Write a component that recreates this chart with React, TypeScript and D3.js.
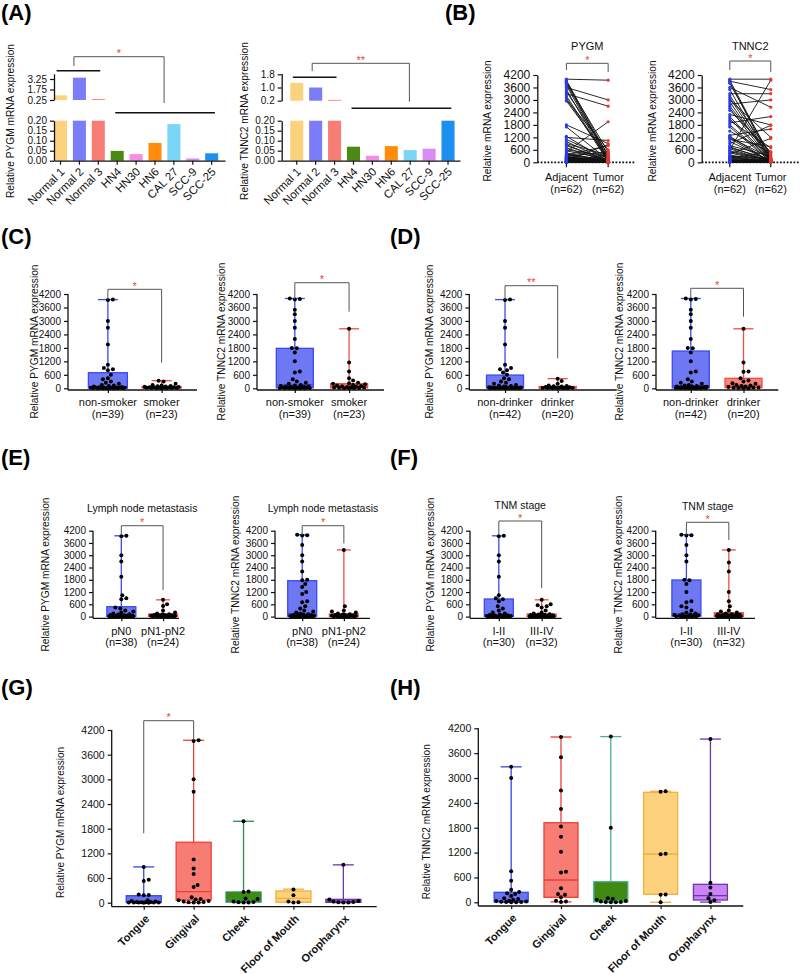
import { useEffect, useRef } from 'react';
import * as d3 from 'd3';

const FONT = '"Liberation Sans", Arial, Helvetica, sans-serif';

// ---------- (A) cell lines, broken y axis
const cellLines = ['Normal 1', 'Normal 2', 'Normal 3', 'HN4', 'HN30', 'HN6', 'CAL 27', 'SCC-9', 'SCC-25'];
const cellColors = ['#FDD27F', '#7B7CF7', '#F87D75', '#4B8A12', '#F78BE6', '#FF8C0A', '#7AD5F7', '#D98BF7', '#1C8FF0'];
const pygmCell = [0.92, 3.44, 0.38, 0.049, 0.033, 0.089, 0.183, 0.011, 0.037];
const tnnc2Cell = [1.28, 1.0, 0.25, 0.07, 0.025, 0.073, 0.053, 0.06, 0.2];
const lowTicks = [0, 0.05, 0.1, 0.15, 0.2];
const pygmUpTicks = [0.25, 1.75, 3.25];
const tnnc2UpTicks = [0.2, 1.0, 1.8];

// ---------- (B) paired adjacent / tumor
const pairGroups = ['Adjacent', 'Tumor'];
const pygmAdj = [4000, 3950, 3900, 3850, 3800, 3700, 3600, 3500, 3400, 3300, 3200, 3100, 3000, 2950,
  1800, 1700, 1250, 1200, 1100, 1000, 900, 850, 800, 700, 600, 550, 500, 450, 400, 380, 350, 330, 300, 280,
  260, 250, 240, 220, 200, 180, 160, 150, 140, 120, 100, 90, 80, 70, 60, 50, 45, 40, 35, 30, 25, 20, 15, 10, 8, 5, 3, 1];
const pygmTum = [3950, 300, 150, 500, 200, 100, 3000, 50, 400, 2700, 80, 30, 600, 250,
  900, 120, 60, 1050, 200, 40, 350, 20, 100, 10, 300, 150, 1950, 50, 80, 30, 800, 25, 500, 10, 20, 40, 60, 15,
  100, 5, 30, 200, 20, 10, 850, 40, 5, 300, 15, 10, 8, 25, 3, 12, 6, 400, 2, 4, 1, 9, 7, 3];
const tnnc2Adj = [4000, 3950, 3900, 3850, 3800, 3600, 3500, 3300, 3200, 3100, 3000, 2900, 2800, 2700, 2600, 2500,
  2300, 2200, 2100, 2000, 1900, 1800, 1700, 1500, 1300, 1250, 1200, 1150, 1100, 1000, 900, 800, 750, 700, 650, 600,
  550, 500, 450, 400, 350, 300, 280, 250, 220, 200, 180, 150, 120, 100, 80, 60, 50, 40, 30, 25, 20, 15, 10, 6, 3, 1];
const tnnc2Tum = [4000, 200, 3500, 100, 300, 2650, 50, 3300, 400, 150, 1200, 80, 3000, 250, 60, 500, 1800, 120, 40,
  700, 2200, 90, 30, 450, 1600, 20, 200, 10, 750, 60, 1780, 300, 40, 150, 20, 3950, 100, 80, 30, 1150, 50, 10, 200,
  25, 15, 500, 60, 8, 40, 5, 120, 30, 20, 10, 80, 5, 15, 3, 50, 2, 4, 1];
const bigTicks = [0, 600, 1200, 1800, 2400, 3000, 3600, 4200];

// ---------- (C) smoking
const smokeGroups = ['non-smoker', 'smoker'];
const smokeN = ['(n=39)', '(n=23)'];
const pygmNonSmoker = [3950, 3930, 3000, 2700, 1950, 1050, 900, 850, 800, 600, 450, 400, 300, 250, 200, 150, 120, 100, 80, 60,
  50, 40, 40, 30, 30, 25, 20, 20, 15, 15, 10, 10, 8, 5, 5, 3, 2, 1, 0];
const pygmSmoker = [340, 300, 200, 150, 120, 100, 90, 80, 70, 60, 50, 45, 40, 35, 30, 25, 20, 15, 10, 8, 5, 3, 1];
const tnnc2NonSmoker = [4000, 3980, 3960, 3500, 3300, 3000, 2700, 2200, 1800, 1780, 1600, 1200, 750, 700, 400, 300, 250, 200,
  150, 120, 100, 90, 80, 70, 60, 50, 40, 35, 30, 25, 20, 15, 10, 8, 5, 4, 3, 2, 1];
const tnnc2Smoker = [2650, 1150, 750, 450, 350, 250, 220, 200, 180, 150, 120, 100, 90, 80, 60, 50, 40, 30, 20, 10, 5, 3, 1];
const statsPygmNonSmoker = [0, 12, 75, 695, 3950];
const statsPygmSmoker = [0, 10, 40, 75, 340];
const statsTnnc2NonSmoker = [1, 20, 150, 1780, 4000];
const statsTnnc2Smoker = [1, 20, 100, 205, 2650];

// ---------- (D) drinking
const drinkGroups = ['non-drinker', 'drinker'];
const drinkN = ['(n=42)', '(n=20)'];
const pygmNonDrinker = [3950, 3930, 3000, 2700, 1950, 1050, 900, 850, 800, 700, 600, 450, 400, 300, 250, 200, 150, 120, 100, 80,
  60, 50, 40, 40, 30, 30, 25, 20, 20, 15, 15, 10, 10, 8, 6, 5, 4, 3, 2, 1, 1, 0];
const pygmDrinker = [430, 330, 200, 120, 100, 90, 80, 60, 50, 40, 30, 25, 20, 15, 10, 8, 5, 3, 2, 1];
const tnnc2NonDrinker = [4000, 3980, 3960, 3500, 3300, 3000, 2700, 2200, 1800, 1780, 1600, 1200, 750, 700, 400, 300, 250, 200,
  150, 120, 100, 90, 80, 70, 60, 50, 40, 35, 30, 25, 20, 18, 15, 12, 10, 8, 6, 5, 4, 3, 2, 1];
const tnnc2Drinker = [2650, 1150, 750, 740, 450, 350, 300, 220, 200, 150, 120, 100, 80, 60, 40, 30, 20, 10, 5, 2];
const statsPygmNonDrinker = [0, 10, 60, 590, 3950];
const statsPygmDrinker = [1, 8, 35, 80, 430];
const statsTnnc2NonDrinker = [1, 15, 120, 1660, 4000];
const statsTnnc2Drinker = [2, 30, 130, 445, 2650];

// ---------- (E) lymph node metastasis
const nodeGroups = ['pN0', 'pN1-pN2'];
const nodeN = ['(n=38)', '(n=24)'];
const pygmPN0 = [3950, 3930, 3000, 2700, 1950, 1050, 900, 850, 450, 400, 300, 250, 200, 150, 120, 100, 80, 60, 50, 40,
  40, 30, 30, 25, 20, 20, 15, 15, 10, 10, 8, 6, 5, 4, 3, 2, 1, 0];
const pygmPN12 = [820, 600, 520, 300, 200, 150, 120, 100, 90, 80, 70, 60, 50, 40, 35, 30, 25, 20, 15, 10, 8, 5, 3, 1];
const tnnc2PN0 = [4000, 3980, 3960, 3500, 3000, 2700, 2200, 1800, 1780, 1600, 1450, 1200, 1100, 750, 700, 500, 400, 300, 250,
  200, 150, 120, 100, 80, 60, 50, 40, 30, 25, 20, 15, 10, 8, 5, 4, 3, 2, 1];
const tnnc2PN12 = [3260, 500, 300, 250, 200, 150, 120, 100, 90, 80, 70, 60, 50, 40, 35, 30, 25, 20, 15, 10, 8, 5, 3, 1];
const statsPygmPN0 = [0, 10, 50, 484, 3950];
const statsPygmPN12 = [1, 10, 45, 127, 820];
const statsTnnc2PN0 = [1, 20, 150, 1755, 4000];
const statsTnnc2PN12 = [1, 10, 50, 127, 3260];

// ---------- (F) TNM stage
const stageGroups = ['I-II', 'III-IV'];
const stageN = ['(n=30)', '(n=32)'];
const pygmStage12 = [3950, 3930, 3000, 2700, 1950, 1050, 900, 850, 750, 500, 400, 300, 200, 150, 100, 80, 60, 50, 40, 30,
  25, 20, 15, 10, 8, 5, 4, 3, 2, 1];
const pygmStage34 = [820, 600, 550, 500, 450, 300, 200, 150, 120, 100, 90, 80, 70, 60, 50, 45, 40, 35, 30, 25, 20, 18, 15, 12,
  10, 8, 6, 5, 4, 3, 2, 1];
const tnnc2Stage12 = [4000, 3980, 3960, 3500, 3000, 2700, 1800, 1780, 1600, 1200, 750, 700, 500, 450, 300, 200, 150, 120, 100,
  80, 60, 40, 30, 20, 15, 10, 5, 3, 2, 1];
const tnnc2Stage34 = [3260, 2650, 2200, 1200, 750, 500, 300, 250, 200, 150, 120, 100, 90, 80, 70, 60, 50, 45, 40, 35, 30, 25,
  20, 15, 12, 10, 8, 6, 5, 3, 2, 1];
const statsPygmStage12 = [1, 10, 60, 860, 3950];
const statsPygmStage34 = [1, 10, 40, 127, 820];
const statsTnnc2Stage12 = [1, 20, 150, 1790, 4000];
const statsTnnc2Stage34 = [1, 10, 60, 190, 3260];

// ---------- (G)/(H) tumour site
const sites = ['Tongue', 'Gingival', 'Cheek', 'Floor of Mouth', 'Oropharynx'];
const siteFillG = ['#6A74F2', '#F77C73', '#3F8A10', '#FCD27E', '#B06AE6'];
const siteStrokeG = ['#3546EA', '#EE3F35', '#2E8B57', '#F2AE3C', '#6E34A8'];
const siteFillH = ['#6A74F2', '#F77C73', '#3F8A10', '#FCD27E', '#C985F5'];
const siteStrokeH = ['#3546EA', '#EE3F35', '#46B08A', '#F2AE3C', '#7033B0'];
const pygmSiteValues = [
  [870, 560, 530, 200, 190, 180, 60, 40, 30, 20, 15, 10, 8, 6, 5, 4, 3, 2, 1, 0],
  [3950, 3930, 3000, 2700, 1050, 830, 700, 430, 380, 130, 90, 80, 60, 40, 30, 20, 10, 5, 2],
  [1980, 270, 260, 100, 90, 30, 20, 10, 5, 2],
  [320, 180, 30, 10, 5],
  [920, 80, 40, 30, 20, 10, 5, 2],
];
const pygmSiteStats = [
  [0, 5, 25, 170, 870],
  [2, 65, 268, 1470, 3950],
  [2, 15, 70, 260, 1980],
  [5, 10, 107, 285, 330],
  [2, 8, 40, 82, 920],
];
const tnnc2SiteValues = [
  [3270, 3000, 750, 520, 300, 250, 220, 200, 150, 100, 80, 60, 40, 30, 20, 15, 10, 5, 3, 1],
  [3990, 3500, 2700, 2250, 1830, 1580, 1220, 740, 720, 340, 200, 180, 120, 40, 20, 10],
  [4000, 1800, 100, 80, 60, 30, 20, 10, 5, 3, 1],
  [2680, 2670, 1170, 1160, 190, 180, 0],
  [3940, 470, 360, 200, 100, 50, 5],
];
const tnnc2SiteStats = [
  [1, 10, 20, 241, 3270],
  [10, 120, 538, 1921, 3990],
  [1, 10, 40, 497, 4000],
  [0, 193, 1166, 2655, 2680],
  [5, 55, 159, 434, 3940],
];

const BLUE = { fill: '#6E78F2', stroke: '#3A4AF2' };
const RED = { fill: '#F7857B', stroke: '#EF4E42' };
const STAR = '#E8463C';
const INK = '#111';

const panelLabels: [string, number, number][] = [
  ['(A)', 1, 19.5], ['(B)', 445, 20], ['(C)', 1, 243.5], ['(D)', 390, 243.5],
  ['(E)', 1, 465], ['(F)', 390, 465], ['(G)', 1, 695], ['(H)', 390, 695],
];

function swarm(values: number[], y: (v: number) => number, cx: number, r: number, half: number) {
  const ys = values.map((v) => y(v)).sort((a, b) => b - a);
  const out: [number, number][] = [];
  const d = 2 * r + 0.2;
  for (const py of ys) {
    let chosen = cx;
    let bestGap = -1;
    for (let k = 0; k <= half * 2 + 1; k++) {
      const off = (k % 2 ? 1 : -1) * Math.ceil(k / 2);
      if (Math.abs(off) > half) continue;
      const px = cx + off;
      let gap = Infinity;
      for (const [qx, qy] of out) gap = Math.min(gap, Math.hypot(qx - px, qy - py));
      if (gap >= d) { chosen = px; break; }
      if (gap > bestGap) { bestGap = gap; chosen = px; }
    }
    out.push([chosen, py]);
  }
  return out;
}

function text(g: any, x: number, y: number, s: string, size: number, opts: any = {}) {
  return g.append('text')
    .attr('x', x).attr('y', y)
    .attr('font-size', size)
    .attr('font-family', FONT)
    .attr('font-weight', opts.bold ? 'bold' : 'normal')
    .attr('text-anchor', opts.anchor || 'middle')
    .attr('fill', opts.fill || INK)
    .text(s);
}

function yTitle(g: any, x: number, cy: number, s: string, size = 10.2) {
  g.append('text')
    .attr('transform', `translate(${x},${cy}) rotate(-90)`)
    .attr('text-anchor', 'middle')
    .attr('font-size', size)
    .attr('font-family', FONT)
    .attr('fill', INK)
    .text(s);
}

function styleAxis(a: any, size: number) {
  a.attr('font-size', size).attr('font-family', FONT);
  a.selectAll('line').attr('stroke', INK).attr('stroke-width', 1.2);
  a.selectAll('path').attr('stroke', INK).attr('stroke-width', 1.3);
  a.selectAll('text').attr('fill', INK);
}

function bracket(g: any, x1: number, x2: number, y: number, e1: number, e2: number, star: string) {
  g.append('path')
    .attr('d', `M${x1},${e1}V${y}H${x2}V${e2}`)
    .attr('fill', 'none').attr('stroke', '#555').attr('stroke-width', 1);
  text(g, (x1 + x2) / 2, y + 0.5, star, 11, { fill: STAR });
}

// ---------- (A)
function drawBroken(svg: any, o: any) {
  const g = svg.append('g');
  const x = d3.scaleBand().domain(cellLines).range([o.left, o.right])
    .paddingInner(0.31).paddingOuter(o.po).align(o.align);
  const bw = x.bandwidth();
  const yLow = d3.scaleLinear().domain([0, 0.2]).range([160.7, 120.7]);
  const yUp = d3.scaleLinear().domain(o.upDomain).range(o.upRange);
  const lowTop = 0.2;

  g.selectAll('rect.low').data(o.values).join('rect')
    .attr('x', (_: any, i: number) => x(cellLines[i]))
    .attr('width', bw)
    .attr('y', (d: number) => yLow(Math.min(d, lowTop)))
    .attr('height', (d: number) => yLow(0) - yLow(Math.min(d, lowTop)))
    .attr('fill', (_: any, i: number) => cellColors[i]);
  const up = o.values.map((v: number, i: number) => ({ v, i })).filter((d: any) => d.v > o.upDomain[0]);
  g.selectAll('rect.up').data(up).join('rect')
    .attr('x', (d: any) => x(cellLines[d.i]))
    .attr('width', bw)
    .attr('y', (d: any) => yUp(d.v))
    .attr('height', (d: any) => Math.max(0.8, yUp(o.upDomain[0]) - yUp(d.v)))
    .attr('fill', (d: any) => cellColors[d.i]);

  const aLow = g.append('g').attr('transform', `translate(${o.left},0)`)
    .call(d3.axisLeft(yLow).tickValues(lowTicks).tickFormat(d3.format('.2f')).tickSize(4).tickSizeOuter(0));
  styleAxis(aLow, 10);
  const aUp = g.append('g').attr('transform', `translate(${o.left},0)`)
    .call(d3.axisLeft(yUp).tickValues(o.upTicks).tickFormat(d3.format(o.upFormat)).tickSize(4).tickSizeOuter(0));
  styleAxis(aUp, 10);

  const ax = g.append('g').attr('transform', `translate(0,${yLow(0)})`)
    .call(d3.axisBottom(x).tickSize(4).tickSizeOuter(0));
  styleAxis(ax, 11.5);
  ax.selectAll('text')
    .attr('text-anchor', 'end')
    .attr('x', 0).attr('y', 0).attr('dy', '0.35em')
    .attr('transform', 'translate(2,9) rotate(-45)');

  const nx1 = (x('Normal 1') as number) + bw * 0.2;
  const nx2 = (x('Normal 3') as number) + bw * 0.65;
  const cx1 = (x('HN4') as number) + bw * 0.35;
  const cx2 = (x('SCC-25') as number) + bw * 0.75;
  g.append('line').attr('x1', nx1).attr('x2', nx2).attr('y1', o.normY).attr('y2', o.normY)
    .attr('stroke', INK).attr('stroke-width', 1.6);
  g.append('line').attr('x1', cx1).attr('x2', cx2).attr('y1', o.canY).attr('y2', o.canY)
    .attr('stroke', INK).attr('stroke-width', 1.6);
  const bx1 = (nx1 + nx2) / 2 + o.bdx[0];
  const bx2 = (cx1 + cx2) / 2 + o.bdx[1];
  bracket(g, bx1, bx2, o.brY, o.brEnds[0], o.brEnds[1], o.star);
  yTitle(g, o.labelX, 121, o.yLabel);
}

// ---------- (B)
function drawPaired(svg: any, o: any) {
  const g = svg.append('g');
  const x = d3.scalePoint().domain(pairGroups).range([o.left, o.right]).padding(o.pad).align(o.align);
  const y = d3.scaleLinear().domain([0, 4200]).range([162.3, 75]);
  const xa = x('Adjacent') as number;
  const xt = x('Tumor') as number;

  g.append('line').attr('x1', o.left).attr('x2', o.right).attr('y1', y(0)).attr('y2', y(0))
    .attr('stroke', INK).attr('stroke-width', 1.8).attr('stroke-dasharray', '1.8,1.6');
  [xa, xt].forEach((px) => {
    g.append('line').attr('x1', px).attr('x2', px).attr('y1', y(0)).attr('y2', y(0) + 5)
      .attr('stroke', INK).attr('stroke-width', 1.2);
  });
  g.selectAll('line.pair').data(o.adj).join('line')
    .attr('x1', xa).attr('x2', xt)
    .attr('y1', (d: number) => y(d))
    .attr('y2', (_: number, i: number) => y(o.tum[i]))
    .attr('stroke', INK).attr('stroke-width', 0.9);
  g.selectAll('circle.adj').data(o.adj).join('circle')
    .attr('cx', xa).attr('cy', (d: number) => y(d)).attr('r', 1.6).attr('fill', '#2B3BEA');
  g.selectAll('circle.tum').data(o.tum).join('circle')
    .attr('cx', xt).attr('cy', (d: number) => y(d)).attr('r', 1.6).attr('fill', '#E8392F');

  const ay = g.append('g').attr('transform', `translate(${o.left},0)`)
    .call(d3.axisLeft(y).tickValues(bigTicks).tickFormat(d3.format('d')).tickSize(4).tickSizeOuter(0));
  styleAxis(ay, 12);

  text(g, xa, 181, 'Adjacent', 11);
  text(g, xa, 192.5, '(n=62)', 11);
  text(g, xt, 181, 'Tumor', 11);
  text(g, xt, 192.5, '(n=62)', 11);
  text(g, (xa + xt) / 2, 50, o.title, 11);
  bracket(g, xa, xt, o.brY, y(4440), y(4340), '*');
  yTitle(g, o.labelX, 121, 'Relative mRNA expression');
}

// ---------- (C)-(H)
function drawBoxChart(svg: any, c: any) {
  const g = svg.append('g');
  const names = c.groups.map((d: any) => d.name);
  const x = d3.scalePoint().domain(names).range([c.left, c.right]).padding(c.pad).align(c.align);
  const y = d3.scaleLinear().domain([0, 4200]).range([c.zeroY, c.topY]);

  c.groups.forEach((gr: any) => {
    const cx = x(gr.name) as number;
    const [mn, q1, md, q3, mx] = gr.stats;
    const hw = c.boxW / 2;
    const cw = c.capW / 2;
    const sw = 1.3;
    g.append('line').attr('x1', cx).attr('x2', cx).attr('y1', y(q3)).attr('y2', y(mx))
      .attr('stroke', gr.stroke).attr('stroke-width', sw);
    g.append('line').attr('x1', cx).attr('x2', cx).attr('y1', y(q1)).attr('y2', y(mn))
      .attr('stroke', gr.stroke).attr('stroke-width', sw);
    g.append('line').attr('x1', cx - cw).attr('x2', cx + cw).attr('y1', y(mx)).attr('y2', y(mx))
      .attr('stroke', gr.stroke).attr('stroke-width', sw);
    g.append('line').attr('x1', cx - cw).attr('x2', cx + cw).attr('y1', y(mn)).attr('y2', y(mn))
      .attr('stroke', gr.stroke).attr('stroke-width', sw);
    g.append('rect').attr('x', cx - hw).attr('width', c.boxW)
      .attr('y', y(q3)).attr('height', Math.max(1, y(q1) - y(q3)))
      .attr('fill', gr.fill).attr('stroke', gr.stroke).attr('stroke-width', sw);
    g.append('line').attr('x1', cx - hw).attr('x2', cx + hw).attr('y1', y(md)).attr('y2', y(md))
      .attr('stroke', gr.stroke).attr('stroke-width', sw);
    const pts = swarm(gr.values, y, cx, c.r, hw - 2);
    g.selectAll(null).data(pts).join('circle')
      .attr('cx', (d: number[]) => d[0]).attr('cy', (d: number[]) => d[1])
      .attr('r', c.r).attr('fill', '#000');
  });

  const ay = g.append('g').attr('transform', `translate(${c.left},0)`)
    .call(d3.axisLeft(y).tickValues(bigTicks).tickFormat(d3.format('d')).tickSize(4).tickSizeOuter(0));
  styleAxis(ay, c.tickFont);
  ay.select('.domain').remove();
  g.append('line').attr('x1', c.left).attr('x2', c.left).attr('y1', y(4200)).attr('y2', c.axisY)
    .attr('stroke', INK).attr('stroke-width', 1.3);

  const ax = g.append('g').attr('transform', `translate(0,${c.axisY})`)
    .call(d3.axisBottom(x).tickSize(3).tickSizeOuter(0));
  ax.select('.domain').attr('d', `M${c.left},0H${c.right}`);
  styleAxis(ax, c.catFont);
  if (c.rotate) {
    ax.selectAll('text')
      .attr('text-anchor', 'end').attr('font-weight', 'bold')
      .attr('x', 0).attr('y', 0).attr('dy', '0.35em')
      .attr('transform', 'translate(3,10) rotate(-45)');
  } else {
    ax.selectAll('text').remove();
    c.groups.forEach((gr: any) => {
      const cx = x(gr.name) as number;
      text(g, cx, c.catY[0], gr.name, c.catFont);
      text(g, cx, c.catY[1], gr.n, c.catFont);
    });
  }

  if (c.title) text(g, (x(names[0]) as number + (x(names[1]) as number)) / 2, c.titleY, c.title, 10.5);
  if (c.br) {
    const [i1, i2, top, e1, e2, star] = c.br;
    bracket(g, x(names[i1]) as number, x(names[i2]) as number, y(top), y(e1), y(e2), star);
  }
  yTitle(g, c.labelX, c.labelCY, c.yLabel, c.labelFont || 10.2);
}

function pair(names: string[], ns: string[], v1: number[], v2: number[], s1: number[], s2: number[]) {
  return [
    { name: names[0], n: ns[0], values: v1, stats: s1, ...BLUE },
    { name: names[1], n: ns[1], values: v2, stats: s2, ...RED },
  ];
}

function sitesGroups(values: number[][], stats: number[][], fills: string[], strokes: string[]) {
  return sites.map((s, i) => ({ name: s, n: '', values: values[i], stats: stats[i], fill: fills[i], stroke: strokes[i] }));
}

export default function App() {
  const ref = useRef<SVGSVGElement>(null);

  useEffect(() => {
    const svg = d3.select(ref.current);
    svg.selectAll('*').remove();
    svg.append('rect').attr('width', 800).attr('height', 974).attr('fill', '#fff');

    panelLabels.forEach(([s, x, y]) => text(svg, x, y, s, 22, { bold: true, anchor: 'start', fill: '#000' }));

    drawBroken(svg, {
      left: 54, right: 225, po: 0.18, align: 0, values: pygmCell,
      upDomain: [0.25, 4.0], upRange: [100, 73.75], upTicks: pygmUpTicks, upFormat: '.2f',
      normY: 70.7, canY: 112.7, bdx: [-4.5, -1], brY: 56.7, brEnds: [66, 103], star: '*',
      labelX: 13.5, yLabel: 'Relative PYGM mRNA expression',
    });
    drawBroken(svg, {
      left: 281.7, right: 460, po: 0.37, align: 0.61, values: tnnc2Cell,
      upDomain: [0.2, 1.85], upRange: [100.7, 73.5], upTicks: tnnc2UpTicks, upFormat: '.1f',
      normY: 77.3, canY: 108.3, bdx: [-2.5, 8], brY: 63.3, brEnds: [71, 101.7], star: '**',
      labelX: 248, yLabel: 'Relative TNNC2 mRNA expression',
    });

    drawPaired(svg, { left: 537.3, right: 635, pad: 0.67, align: 0.52, adj: pygmAdj, tum: pygmTum, title: 'PYGM', brY: 63.3, labelX: 491 });
    drawPaired(svg, { left: 701.7, right: 800, pad: 0.7, align: 0.49, adj: tnnc2Adj, tum: tnnc2Tum, title: 'TNNC2', brY: 61, labelX: 655.5 });

    const cd = { zeroY: 388.3, topY: 294, axisY: 390, r: 2, capW: 20, tickFont: 10, catFont: 11, catY: [405.5, 417.5], labelCY: 341.5 };
    drawBoxChart(svg, { ...cd, left: 68, right: 197, pad: 0.7, align: 0.53, boxW: 39,
      groups: pair(smokeGroups, smokeN, pygmNonSmoker, pygmSmoker, statsPygmNonSmoker, statsPygmSmoker),
      br: [0, 1, 4409, 3950, 1140, '*'], labelX: 38, yLabel: 'Relative PYGM mRNA expression' });
    drawBoxChart(svg, { ...cd, left: 257, right: 384, pad: 0.67, align: 0.52, boxW: 37,
      groups: pair(smokeGroups, smokeN, tnnc2NonSmoker, tnnc2Smoker, statsTnnc2NonSmoker, statsTnnc2Smoker),
      br: [0, 1, 4703, 4000, 3410, '*'], labelX: 225, yLabel: 'Relative TNNC2 mRNA expression' });
    drawBoxChart(svg, { ...cd, left: 469.3, right: 616.7, pad: 0.9, align: 0.377, boxW: 37,
      groups: pair(drinkGroups, drinkN, pygmNonDrinker, pygmDrinker, statsPygmNonDrinker, statsPygmDrinker),
      br: [0, 1, 4570, 3950, 1336, '**'], labelX: 433, yLabel: 'Relative PYGM mRNA expression' });
    drawBoxChart(svg, { ...cd, left: 656, right: 778.3, pad: 0.66, align: 0.5, boxW: 37,
      groups: pair(drinkGroups, drinkN, tnnc2NonDrinker, tnnc2Drinker, statsTnnc2NonDrinker, statsTnnc2Drinker),
      br: [0, 1, 4454, 4000, 3190, '*'], labelX: 623, yLabel: 'Relative TNNC2 mRNA expression' });

    const ef = { zeroY: 616.6, topY: 530.7, axisY: 618.3, r: 2, capW: 14, tickFont: 10, catFont: 11, catY: [634.5, 646], labelCY: 574.5, boxW: 29 };
    drawBoxChart(svg, { ...ef, left: 93, right: 179, pad: 0.53, align: 0.64,
      groups: pair(nodeGroups, nodeN, pygmPN0, pygmPN12, statsPygmPN0, statsPygmPN12),
      br: [0, 1, 4444, 3990, 1300, '*'], title: 'Lymph node metastasis', titleY: 511.5,
      labelX: 49, yLabel: 'Relative PYGM mRNA expression' });
    drawBoxChart(svg, { ...ef, left: 275, right: 370, pad: 0.64, align: 0.51,
      groups: pair(nodeGroups, nodeN, tnnc2PN0, tnnc2PN12, statsTnnc2PN0, statsTnnc2PN12),
      br: [0, 1, 4444, 3990, 3580, '*'], title: 'Lymph node metastasis', titleY: 511.5,
      labelX: 238.5, yLabel: 'Relative TNNC2 mRNA expression' });
    drawBoxChart(svg, { ...ef, left: 470, right: 561.7, pad: 0.57, align: 0.59,
      groups: pair(stageGroups, stageN, pygmStage12, pygmStage34, statsPygmStage12, statsPygmStage34),
      br: [0, 1, 4674, 3990, 1390, '*'], title: 'TNM stage', titleY: 509,
      labelX: 434, yLabel: 'Relative PYGM mRNA expression' });
    drawBoxChart(svg, { ...ef, left: 655.7, right: 755, pad: 0.67, align: 0.54,
      groups: pair(stageGroups, stageN, tnnc2Stage12, tnnc2Stage34, statsTnnc2Stage12, statsTnnc2Stage34),
      br: [0, 1, 4611, 3990, 3745, '*'], title: 'TNM stage', titleY: 510,
      labelX: 622, yLabel: 'Relative TNNC2 mRNA expression' });

    drawBoxChart(svg, { zeroY: 902.7, topY: 730, axisY: 906.7, r: 2, capW: 21, tickFont: 10.5, catFont: 11,
      left: 111.7, right: 376.7, pad: 0.655, align: 0.49, boxW: 35, rotate: true,
      groups: sitesGroups(pygmSiteValues, pygmSiteStats, siteFillG, siteStrokeG),
      br: [0, 1, 4426, 1688, 3957, '*'], labelX: 63.5, labelCY: 822.5, labelFont: 10,
      yLabel: 'Relative PYGM mRNA expression' });
    drawBoxChart(svg, { zeroY: 902.3, topY: 728.3, axisY: 906, r: 2, capW: 21, tickFont: 10.5, catFont: 11,
      left: 478.3, right: 743.3, pad: 0.66, align: 0.5, boxW: 34, rotate: true,
      groups: sitesGroups(tnnc2SiteValues, tnnc2SiteStats, siteFillH, siteStrokeH),
      labelX: 430, labelCY: 821.7, labelFont: 10,
      yLabel: 'Relative TNNC2 mRNA expression' });
  }, []);

  return (
    <svg
      ref={ref}
      width={800}
      height={974}
      style={{ position: 'absolute', left: 0, top: 0, display: 'block' }}
    />
  );
}
